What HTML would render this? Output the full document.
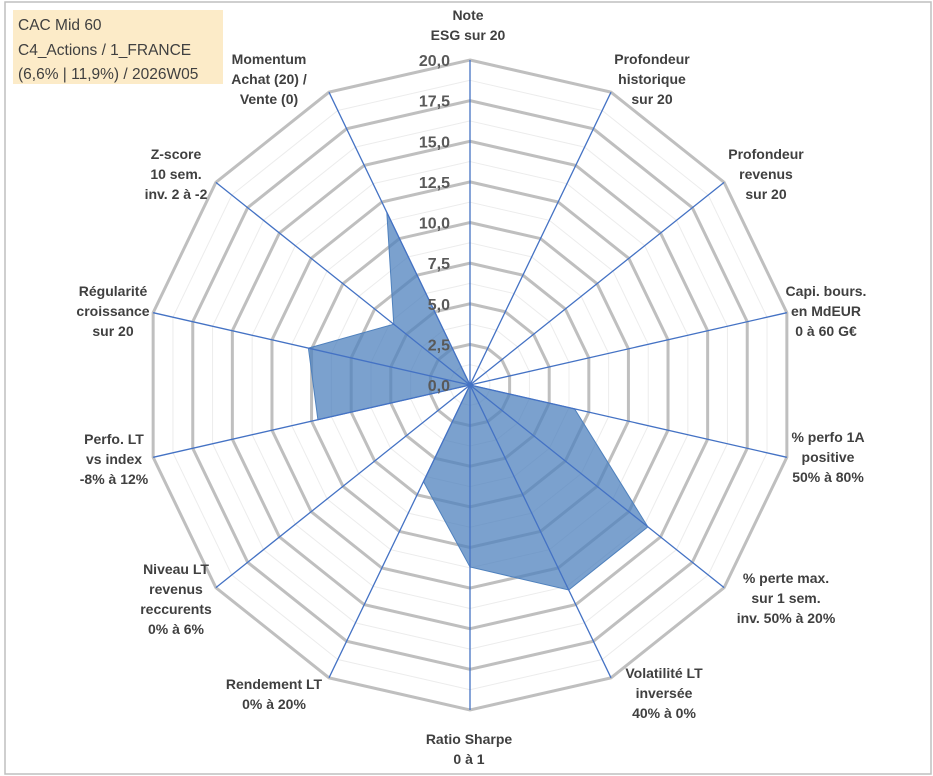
<!DOCTYPE html>
<html><head><meta charset="utf-8"><style>
body{margin:0;background:#fff;}
#wrap{position:relative;width:933px;height:776px;overflow:hidden;background:#fff;}
svg{position:absolute;left:0;top:0;}
text{font-family:"Liberation Sans",sans-serif;}
</style></head><body>
<div id="wrap">
<svg id="chart" width="933" height="776">
<rect x="5" y="2" width="926" height="772" fill="#fff" stroke="#bfbfbf" stroke-width="1.5"/>
<rect x="13" y="10" width="210" height="74" fill="#fcebc8"/>
<text x="18" y="30" font-size="15.5" fill="#404040">CAC Mid 60</text>
<text x="18" y="55" font-size="15.5" fill="#404040">C4_Actions / 1_FRANCE</text>
<text x="18" y="79" font-size="15.5" fill="#404040">(6,6% | 11,9%) / 2026W05</text>
<g id="grid"></g><g id="series"></g><g id="axes"></g><g id="ticks"></g><g id="labels"></g>
</svg>
</div>
<script>
const categories=[["Note","ESG sur 20"],["Profondeur","historique","sur 20"],["Profondeur","revenus","sur 20"],["Capi. bours.","en MdEUR","0 à 60 G€"],["% perfo 1A","positive","50% à 80%"],["% perte max.","sur 1 sem.","inv. 50% à 20%"],["Volatilité LT","inversée","40% à 0%"],["Ratio Sharpe","0 à 1"],["Rendement LT","0% à 20%"],["Niveau LT","revenus","reccurents","0% à 6%"],["Perfo. LT","vs index","-8% à 12%"],["Régularité","croissance","sur 20"],["Z-score","10 sem.","inv. 2 à -2"],["Momentum","Achat (20) /","Vente (0)"]];
const values=[0,0,0,0,6.6,14.0,14.0,11.2,6.6,0,9.6,10.2,6.0,11.8];
const tickLabels=["0,0","2,5","5,0","7,5","10,0","12,5","15,0","17,5","20,0"];
const tickValues=[0,2.5,5,7.5,10,12.5,15,17.5,20];
const labelPos=[[468,20],[652,64],[766,159],[826,296],[828,442],[786,583],[664,678],[469,744],[274,689],[176,574],[114,444],[113,296],[176,159],[269,64]];
const CX=470,CY=385,R=325,MAX=20,N=categories.length;
const NS="http://www.w3.org/2000/svg";
function ang(i){return -Math.PI/2+i*2*Math.PI/N;}
function pt(i,v){const r=v/MAX*R;return [CX+r*Math.cos(ang(i)),CY+r*Math.sin(ang(i))];}
function mk(tag,attrs,parent){const e=document.createElementNS(NS,tag);for(const k in attrs)e.setAttribute(k,attrs[k]);parent.appendChild(e);return e;}
const grid=document.getElementById('grid');
for(let k=1;k<=16;k++){const v=k*1.25;const major=k%2===0;
 const p=[];for(let i=0;i<N;i++)p.push(pt(i,v).join(','));
 const g=mk('polygon',{points:p.join(' '),fill:'none',stroke:major?'#bfbfbf':'#ececec','stroke-width':major?3:1},grid);
 
 }
const ser=document.getElementById('series');
const sp=values.map((v,i)=>pt(i,v).join(',')).join(' ');
const poly=mk('polygon',{points:sp,fill:'#4f81bd','fill-opacity':0.75,stroke:'#4f81bd','stroke-width':1},ser);


const ax=document.getElementById('axes');
for(let i=0;i<N;i++){const e=pt(i,MAX);
 const l=mk('line',{x1:CX,y1:CY,x2:e[0],y2:e[1],stroke:'#4472c4','stroke-width':1.3},ax);
 
 }
const tk=document.getElementById('ticks');
tickValues.forEach((v,j)=>{const y=CY-v/MAX*R;
 const t=mk('text',{x:CX-20,y:y+6,'text-anchor':'end','font-size':16,'font-weight':'bold',fill:'#595959'},tk);
 t.textContent=tickLabels[j];
 
 });
const lb=document.getElementById('labels');
categories.forEach((lines,i)=>{const [x,y]=labelPos[i];
 const t=mk('text',{x:x,y:y,'text-anchor':'middle','font-size':14,'font-weight':'bold',fill:'#404040'},lb);
 
 
 lines.forEach((s,k)=>{const ts=mk('tspan',{x:x,y:y+k*20},t);ts.textContent=s;});});
</script>
</body></html>
